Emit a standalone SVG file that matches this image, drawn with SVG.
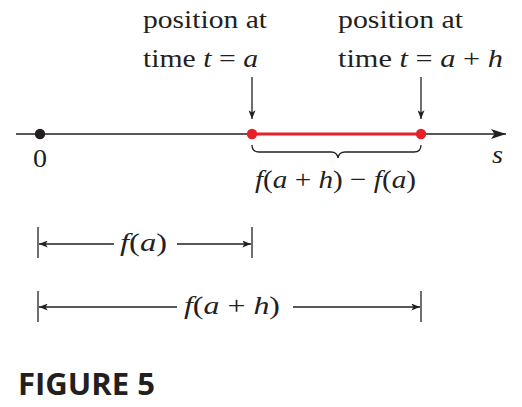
<svg xmlns="http://www.w3.org/2000/svg" width="522" height="407" viewBox="0 0 522 407">
<style>
.ln{stroke:#231f20;stroke-width:1.3;fill:none}
</style>
<defs>
<marker id="ah" viewBox="0 0 10 8" refX="10" refY="4" markerWidth="9" markerHeight="7" markerUnits="userSpaceOnUse" orient="auto-start-reverse">
<path d="M0,0 L10,4 L0,8 L2.5,4 Z" fill="#231f20"/>
</marker>
<marker id="axh" viewBox="0 0 15 10" refX="15" refY="5" markerWidth="15" markerHeight="10" markerUnits="userSpaceOnUse" orient="auto">
<path d="M0,0 L15,5 L0,10 L3.5,5 Z" fill="#231f20"/>
</marker>
</defs>
<rect width="522" height="407" fill="#ffffff"/>
<g id="connectors">
<line class="ln" x1="16" y1="134" x2="506" y2="134" marker-end="url(#axh)"/>
<line x1="252" y1="134" x2="421" y2="134" stroke="#e8202a" stroke-width="3.2"/>
<line class="ln" x1="252" y1="77" x2="252" y2="119" marker-end="url(#ah)"/>
<line class="ln" x1="421" y1="77" x2="421" y2="119" marker-end="url(#ah)"/>
<path class="ln" d="M252,145 Q252,152 259,152 L331,152 Q337,152 338,158 Q339,152 345,152 L414,152 Q421,152 421,145"/>
<line class="ln" x1="38" y1="227" x2="38" y2="258"/>
<line class="ln" x1="252" y1="227" x2="252" y2="258"/>
<line class="ln" x1="114" y1="244" x2="39" y2="244" marker-end="url(#ah)"/>
<line class="ln" x1="177" y1="244" x2="251" y2="244" marker-end="url(#ah)"/>
<line class="ln" x1="38" y1="291" x2="38" y2="322"/>
<line class="ln" x1="421" y1="291" x2="421" y2="322"/>
<line class="ln" x1="177" y1="307" x2="39" y2="307" marker-end="url(#ah)"/>
<line class="ln" x1="293" y1="307" x2="420" y2="307" marker-end="url(#ah)"/>
</g>
<g font-family="'Liberation Serif', 'Times New Roman', serif" font-size="26" fill="#231f20">
<g id="origin">
<circle cx="40" cy="134" r="5.2" fill="#231f20"/>
<text x="33" y="167" textLength="14" lengthAdjust="spacingAndGlyphs">0</text>
</g>
<g id="pos-a">
<circle cx="252" cy="134" r="5.2" fill="#e8202a"/>
<text x="143" y="28" textLength="124" lengthAdjust="spacingAndGlyphs">position at</text>
<text x="143" y="67" textLength="115" lengthAdjust="spacingAndGlyphs">time <tspan font-style="italic">t</tspan> = <tspan font-style="italic">a</tspan></text>
</g>
<g id="pos-ah">
<circle cx="421" cy="134" r="5.2" fill="#e8202a"/>
<text x="338" y="28" textLength="125" lengthAdjust="spacingAndGlyphs">position at</text>
<text x="338" y="67" textLength="165" lengthAdjust="spacingAndGlyphs">time <tspan font-style="italic">t</tspan> = <tspan font-style="italic">a</tspan> + <tspan font-style="italic">h</tspan></text>
</g>
<g id="axis-label">
<text x="492" y="163" font-style="italic" textLength="11" lengthAdjust="spacingAndGlyphs">s</text>
</g>
<g id="difference">
<text x="255" y="188" textLength="161" lengthAdjust="spacingAndGlyphs"><tspan font-style="italic">f</tspan>(<tspan font-style="italic">a</tspan> + <tspan font-style="italic">h</tspan>) − <tspan font-style="italic">f</tspan>(<tspan font-style="italic">a</tspan>)</text>
</g>
<g id="fa">
<text x="120" y="251" textLength="47" lengthAdjust="spacingAndGlyphs"><tspan font-style="italic">f</tspan>(<tspan font-style="italic">a</tspan>)</text>
</g>
<g id="fah">
<text x="184" y="314" textLength="96" lengthAdjust="spacingAndGlyphs"><tspan font-style="italic">f</tspan>(<tspan font-style="italic">a</tspan> + <tspan font-style="italic">h</tspan>)</text>
</g>
</g>
<g id="caption">
<text x="18" y="395" font-family="'Open Sans', 'Noto Sans', sans-serif" font-weight="bold" font-size="30" fill="#231f20" textLength="137" lengthAdjust="spacingAndGlyphs">FIGURE 5</text>
</g>
</svg>
